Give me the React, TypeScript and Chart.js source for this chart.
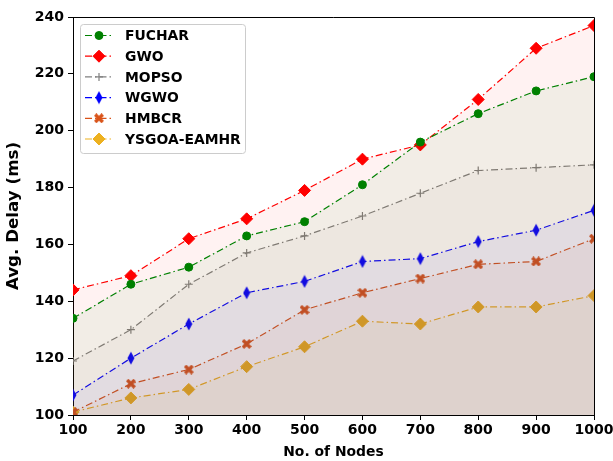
import React, { useEffect, useRef } from "react";
import { Chart, registerables } from "chart.js";
import { drawPoint } from "chart.js/helpers";

Chart.register(...registerables);

const nodes = [100, 200, 300, 400, 500, 600, 700, 800, 900, 1000];
const fuchar = [134, 146, 152, 163, 168, 181, 196, 206, 214, 219];
const gwo = [144, 149, 162, 169, 179, 190, 195, 211, 229, 237];
const mopso = [119, 130, 146, 157, 163, 170, 178, 186, 187, 188];
const wgwo = [107, 120, 132, 143, 147, 154, 155, 161, 165, 172];
const hmbcr = [101, 111, 116, 125, 137, 143, 148, 153, 154, 162];
const ysgoa = [101, 106, 109, 117, 124, 133, 132, 138, 138, 142];
const seriesNames = ["FUCHAR", "GWO", "MOPSO", "WGWO", "HMBCR", "YSGOA-EAMHR"];
const xTitle = "No. of Nodes";
const yTitle = "Avg. Delay (ms)";

const FONT = "'DejaVu Sans', sans-serif";

function makeCanvas(w: number, h: number, draw: (c: CanvasRenderingContext2D) => void) {
  const cv = document.createElement("canvas");
  cv.width = w;
  cv.height = h;
  const c = cv.getContext("2d")!;
  draw(c);
  return cv;
}

function thinDiamond(color: string) {
  return makeCanvas(8, 14, (c) => {
    c.fillStyle = color;
    c.beginPath();
    c.moveTo(4, 0.5);
    c.lineTo(7.5, 7);
    c.lineTo(4, 13.5);
    c.lineTo(0.5, 7);
    c.closePath();
    c.fill();
  });
}

function filledX(color: string) {
  return makeCanvas(10, 10, (c) => {
    c.fillStyle = color;
    const s = 10, t = 2.4;
    c.beginPath();
    c.moveTo(t, 0);
    c.lineTo(s / 2, s / 2 - t);
    c.lineTo(s - t, 0);
    c.lineTo(s, t);
    c.lineTo(s / 2 + t, s / 2);
    c.lineTo(s, s - t);
    c.lineTo(s - t, s);
    c.lineTo(s / 2, s / 2 + t);
    c.lineTo(t, s);
    c.lineTo(0, s - t);
    c.lineTo(s / 2 - t, s / 2);
    c.lineTo(0, t);
    c.closePath();
    c.fill();
  });
}

const legendPlugin = {
  id: "insideLegend",
  afterDraw(chart: any) {
    const ctx = chart.ctx;
    const ca = chart.chartArea;
    ctx.save();
    ctx.strokeStyle = "#000";
    ctx.lineWidth = 1;
    ctx.beginPath();
    ctx.moveTo(ca.left, ca.top + 0.5);
    ctx.lineTo(ca.right + 0.5, ca.top + 0.5);
    ctx.lineTo(ca.right + 0.5, ca.bottom);
    ctx.stroke();

    const x0 = 80, y0 = 24, w = 165, h = 129;
    ctx.fillStyle = "rgba(255,255,255,0.85)";
    ctx.strokeStyle = "#cccccc";
    ctx.beginPath();
    (ctx as any).roundRect(x0 + 0.5, y0 + 0.5, w, h, 3);
    ctx.fill();
    ctx.stroke();

    chart.data.datasets.forEach((ds: any, i: number) => {
      const y = 35.5 + i * 20.7;
      ctx.strokeStyle = ds.borderColor;
      ctx.lineWidth = ds.borderWidth;
      ctx.setLineDash(ds.borderDash);
      ctx.beginPath();
      ctx.moveTo(85, y);
      ctx.lineTo(113, y);
      ctx.stroke();
      ctx.setLineDash([]);
      ctx.fillStyle = ds.pointBackgroundColor;
      ctx.strokeStyle = ds.pointBorderColor;
      ctx.lineWidth = ds.pointBorderWidth;
      drawPoint(ctx, { pointStyle: ds.pointStyle, radius: ds.pointRadius, borderWidth: ds.pointBorderWidth, rotation: 0 } as any, 99, y);
      ctx.fillStyle = "#000";
      ctx.font = `bold 13.9px ${FONT}`;
      ctx.textBaseline = "middle";
      ctx.fillText(ds.label, 125, y + 1);
    });
    ctx.restore();
  },
};

export default function App() {
  const ref = useRef<HTMLCanvasElement>(null);
  useEffect(() => {
    const dash = [7, 3, 1.5, 3];
    const mk = (label: string, data: number[], color: string, fill: string, style: any, radius: number) => ({
      label,
      data: data.map((v, i) => ({ x: nodes[i], y: v })),
      borderColor: color,
      backgroundColor: fill,
      borderWidth: 1.2,
      borderDash: dash,
      fill: "start",
      pointStyle: style,
      pointRadius: radius,
      pointBackgroundColor: color,
      pointBorderColor: color,
      pointBorderWidth: style === "cross" ? 1.2 : 1,
      tension: 0,
    });
    const datasets = [
      mk(seriesNames[0], fuchar, "#008000", "rgba(0,128,0,0.05)", "circle", 4),
      mk(seriesNames[1], gwo, "#ff0000", "rgba(255,0,0,0.05)", "rectRot", 6),
      mk(seriesNames[2], mopso, "#808080", "rgba(128,128,128,0.05)", "cross", 4),
      mk(seriesNames[3], wgwo, "#0000ff", "rgba(0,0,255,0.05)", thinDiamond("#0000ff"), 6),
      mk(seriesNames[4], hmbcr, "#d95319", "rgba(217,83,25,0.05)", filledX("#d95319"), 5),
      mk(seriesNames[5], ysgoa, "#edb120", "rgba(237,177,32,0.05)", "rectRot", 6),
    ];
    const chart = new Chart(ref.current!, {
      type: "line",
      data: { datasets } as any,
      options: {
        animation: false,
        responsive: false,
        layout: { padding: { top: 17, right: 19, left: 0, bottom: 0 } },
        plugins: { legend: { display: false }, tooltip: { enabled: false } },
        scales: {
          x: {
            type: "linear",
            min: 100,
            max: 1000,
            afterFit: (s: any) => { s.height = 46; s.paddingLeft = 0; s.paddingRight = 0; },
            ticks: { stepSize: 100, callback: (v: any) => String(v), color: "#000", font: { family: FONT, weight: "bold", size: 14 }, padding: 2, maxRotation: 0, autoSkip: false },
            grid: { drawOnChartArea: false, drawTicks: true, tickLength: 5, color: "#000" },
            border: { color: "#000", width: 1 },
            title: { display: true, text: xTitle, color: "#000", font: { family: FONT, weight: "bold", size: 13.9 }, padding: { top: 0, bottom: 0 } },
          },
          y: {
            min: 100,
            max: 240,
            afterFit: (s: any) => { s.width = 73; s.paddingTop = 0; s.paddingBottom = 0; },
            ticks: { stepSize: 20, color: "#000", font: { family: FONT, weight: "bold", size: 14 }, padding: 4 },
            grid: { drawOnChartArea: false, drawTicks: true, tickLength: 5, color: "#000" },
            border: { color: "#000", width: 1 },
            title: { display: true, text: yTitle, color: "#000", font: { family: FONT, weight: "bold", size: 16.7 }, padding: { top: 4, bottom: 0 } },
          },
        },
      } as any,
      plugins: [legendPlugin],
    });
    return () => chart.destroy();
  }, []);
  return (
    <div style={{ position: "fixed", left: 0, top: 0, width: 613, height: 461, background: "#fff" }}>
      <canvas ref={ref} width={613} height={461} style={{ width: 613, height: 461 }} />
    </div>
  );
}
